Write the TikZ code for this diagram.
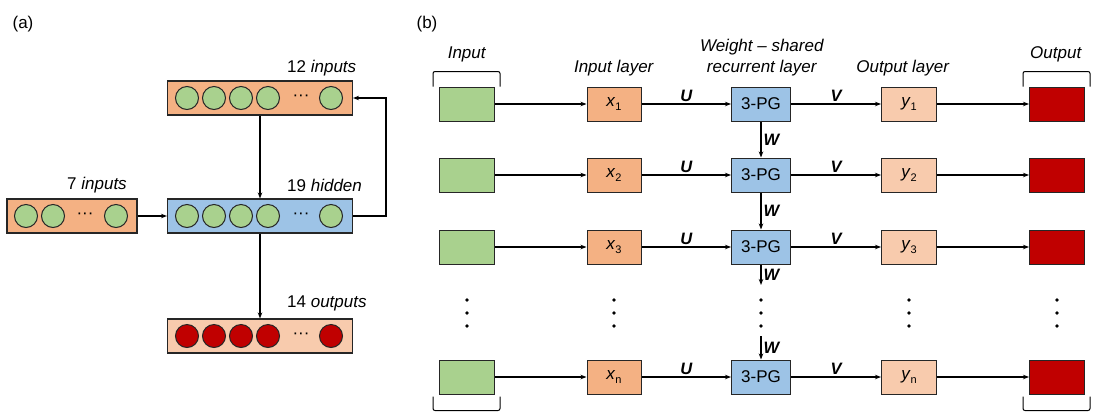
\documentclass[tikz,border=0pt]{standalone}
\usepackage{fontspec}
\setmainfont{Liberation Sans}
\usetikzlibrary{arrows.meta,positioning}

\definecolor{boxorange}{HTML}{F4B183}
\definecolor{boxpeach}{HTML}{F8CBAD}
\definecolor{boxblue}{HTML}{9DC3E6}
\definecolor{cellgreen}{HTML}{A9D18E}
\definecolor{cellred}{HTML}{C00000}
\newcommand\lowidx[1]{\raisebox{-0.45ex}{\fontsize{11}{11}\selectfont #1}}
\newcommand\midots{\textperiodcentered\textperiodcentered\textperiodcentered}

\begin{document}
\begin{tikzpicture}[x=1pt, y=-1pt, >={Stealth[length=6pt,width=4.5pt]},
    font=\fontsize{17}{21}\selectfont,
    layer/.style={draw=black!85, line width=1.1pt, minimum width=185pt, minimum height=34pt, inner sep=0pt},
    cell/.style={circle, draw=black!85, line width=1pt, minimum size=23pt, inner sep=0pt},
    unit/.style={draw=black!85, line width=1pt, minimum width=55pt, minimum height=34pt, inner sep=0pt},
    caption/.style={anchor=west, inner sep=0pt},
    link/.style={->, line width=1.4pt},
    brace/.style={line width=1pt, rounded corners=2pt},
    weight/.style={font=\fontsize{16.5}{19}\selectfont\bfseries\itshape, inner sep=2pt}]

    \useasboundingbox (0,0) rectangle (1108,416);

    % (a) network
    \node                            (tagA)    at (23,24)          {(a)};
    \node[layer, fill=boxorange]     (ctx)     at (260,98)         {};
    \node[layer, fill=boxblue]       (hid)     at (260,216)        {};
    \node[layer, fill=boxorange, minimum width=130pt] (inp) at (72,216) {};
    \node[layer, fill=boxpeach]      (out)     at (260,336)        {};

    \foreach \i/\x in {1/187,2/214,3/241,4/268} {
        \node[cell, fill=cellgreen]  (ctx\i)   at (\x,98)          {};
        \node[cell, fill=cellgreen]  (hid\i)   at (\x,216)         {};
        \node[cell, fill=cellred]    (out\i)   at (\x,336)         {};
    }
    \node[cell, fill=cellgreen]      (ctx5)    at (331,98)         {};
    \node[cell, fill=cellgreen]      (hid5)    at (331,216)        {};
    \node[cell, fill=cellred]        (out5)    at (331,336)        {};
    \node                            (ctxdots) at (301,98)         {\midots};
    \node                            (hiddots) at (301,216)        {\midots};
    \node                            (outdots) at (301,336)        {\midots};

    \node[cell, fill=cellgreen]      (inp1)    at (26,216)         {};
    \node[cell, fill=cellgreen]      (inp2)    at (53,216)         {};
    \node[cell, fill=cellgreen]      (inp3)    at (116,216)        {};
    \node                            (inpdots) at (85,216)         {\midots};

    \node[caption]                   (ctxlbl)  at (287,68)         {12 \textit{inputs}};
    \node[caption]                   (inplbl)  at (67,185)         {7 \textit{inputs}};
    \node[caption]                   (hidlbl)  at (287,185)        {19 \textit{hidden}};
    \node[caption]                   (outlbl)  at (287,303)        {14 \textit{outputs}};

    \draw[link] (ctx.south) -- (hid.north);
    \draw[link] (inp.east)  -- (hid.west);
    \draw[link] (hid.south) -- (out.north);
    \draw[link] (hid.east)  -- ++(33,0) |- (ctx.east);

    % (b) unrolled recurrent model
    \node                            (tagB)    at (427,24)         {(b)};
    \node                            (srchead) at (467,54)         {\textit{Input}};
    \node                            (xhead)   at (614,68)         {\textit{Input layer}};
    \node[align=center]              (rechead) at (762,57.5)       {\textit{Weight -- shared}\\\textit{recurrent layer}};
    \node                            (yhead)   at (903,68)         {\textit{Output layer}};
    \node                            (dsthead) at (1056,54)        {\textit{Output}};

    \node[unit, fill=cellgreen]      (src1)    at (467,104)        {};
    \node[unit, fill=boxorange, minimum width=54pt] (xin1) at (614,104) {\textit{x}\lowidx{1}};
    \node[unit, fill=boxblue, minimum width=59pt]   (rec1) at (761,104) {3-PG};
    \node[unit, fill=boxpeach]       (yout1)   at (909,104)        {\textit{y}\lowidx{1}};
    \node[unit, fill=cellred]        (dst1)    at (1057,104)       {};

    \node[unit, fill=cellgreen]      (src2)    at (467,175)        {};
    \node[unit, fill=boxorange, minimum width=54pt] (xin2) at (614,175) {\textit{x}\lowidx{2}};
    \node[unit, fill=boxblue, minimum width=59pt]   (rec2) at (761,175) {3-PG};
    \node[unit, fill=boxpeach]       (yout2)   at (909,175)        {\textit{y}\lowidx{2}};
    \node[unit, fill=cellred]        (dst2)    at (1057,175)       {};

    \node[unit, fill=cellgreen]      (src3)    at (467,247)        {};
    \node[unit, fill=boxorange, minimum width=54pt] (xin3) at (614,247) {\textit{x}\lowidx{3}};
    \node[unit, fill=boxblue, minimum width=59pt]   (rec3) at (761,247) {3-PG};
    \node[unit, fill=boxpeach]       (yout3)   at (909,247)        {\textit{y}\lowidx{3}};
    \node[unit, fill=cellred]        (dst3)    at (1057,247)       {};

    \node[unit, fill=cellgreen]      (srcn)    at (467,377)        {};
    \node[unit, fill=boxorange, minimum width=54pt] (xinn) at (614,377) {\textit{x}\lowidx{n}};
    \node[unit, fill=boxblue, minimum width=59pt]   (recn) at (761,377) {3-PG};
    \node[unit, fill=boxpeach]       (youtn)   at (909,377)        {\textit{y}\lowidx{n}};
    \node[unit, fill=cellred]        (dstn)    at (1057,377)       {};

    \coordinate (recgap)    at (761,285);
    \coordinate (recresume) at (761,336);

    \foreach \x in {467,614,761,909,1057}
        \foreach \y in {300,313,326}
            \fill (\x,\y) circle (1.9);

    \draw[brace] (src1.north west) ++(-6,0) -- ++(0,-15) -- ++(67,0) -- ++(0,15);
    \draw[brace] (dst1.north west) ++(-6,0) -- ++(0,-15) -- ++(67,0) -- ++(0,15);
    \draw[brace] (srcn.south west) ++(-6,2) -- ++(0,14) -- ++(67,0) -- ++(0,-14);
    \draw[brace] (dstn.south west) ++(-6,2) -- ++(0,14) -- ++(67,0) -- ++(0,-14);

    \path[link] (src1) edge (xin1)
                (xin1) edge node[weight, above] {U} (rec1)
                (rec1) edge node[weight, above] {V} (yout1)
                (yout1) edge (dst1)
                (src2) edge (xin2)
                (xin2) edge node[weight, above] {U} (rec2)
                (rec2) edge node[weight, above] {V} (yout2)
                (yout2) edge (dst2)
                (src3) edge (xin3)
                (xin3) edge node[weight, above] {U} (rec3)
                (rec3) edge node[weight, above] {V} (yout3)
                (yout3) edge (dst3)
                (srcn) edge (xinn)
                (xinn) edge node[weight, above] {U} (recn)
                (recn) edge node[weight, above] {V} (youtn)
                (youtn) edge (dstn)
                (rec1) edge node[weight, right] {W} (rec2)
                (rec2) edge node[weight, right] {W} (rec3)
                (rec3) edge node[weight, right] {W} (recgap)
                (recresume) edge node[weight, right] {W} (recn);
\end{tikzpicture}
\end{document}
